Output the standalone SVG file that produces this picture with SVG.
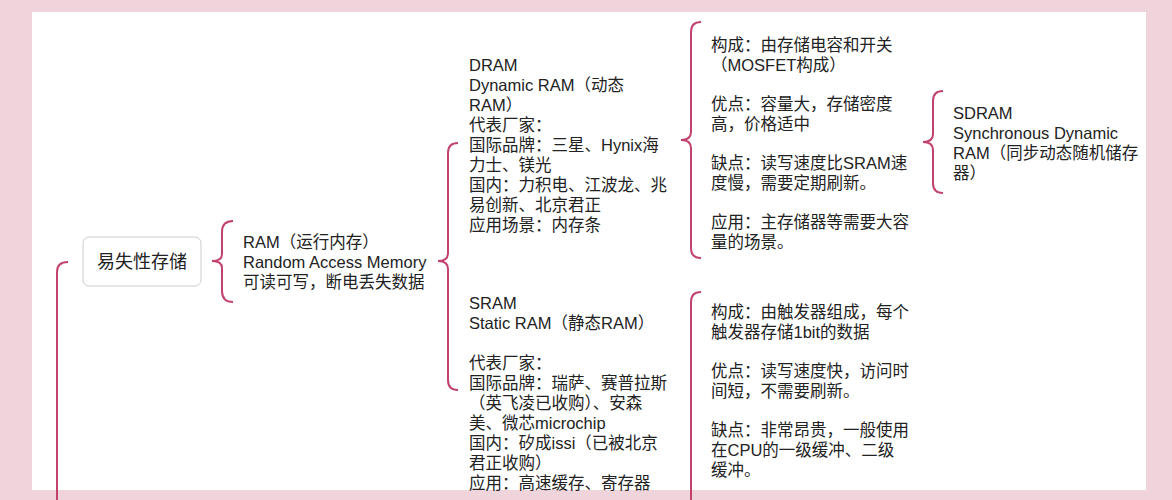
<svg xmlns="http://www.w3.org/2000/svg" width="1172" height="500" viewBox="0 0 1172 500">
<style>
text{font-family:"Liberation Sans","Noto Sans CJK SC",sans-serif;font-size:16.5px;fill:#222}
.b{fill:none;stroke:#c2426e;stroke-width:2}
</style>
<rect width="1172" height="500" fill="#f0d4db"/>
<rect x="32" y="12" width="1114" height="478" fill="#fff"/>
<g id="connectors">
<path class="b" d="M68,262 Q57,262 57,272 L57,500"/>
<path class="b" d="M233,221 Q222,221 222,232 L222,254 Q222,261 212,261 Q222,261 222,268 L222,291 Q222,302 233,302"/>
<path class="b" d="M458,143 Q448,143 448,153 L448,253 Q448,261 438,261 Q448,261 448,269 L448,380 Q448,390 458,390"/>
<path class="b" d="M701,22 Q691,22 691,32 L691,132 Q691,140 681,140 Q691,140 691,148 L691,248 Q691,258 701,258"/>
<path class="b" d="M701,292 Q691,292 691,302 L691,500"/>
<path class="b" d="M943,91 Q933,91 933,101 L933,134 Q933,142 923,142 Q933,142 933,150 L933,183 Q933,193 943,193"/>
</g>
<g id="n-volatile">
<rect x="83" y="237" width="118" height="49" rx="6" fill="#fff" stroke="#ccc"/>
<text x="142" y="268" text-anchor="middle" style="font-size:18px">易失性存储</text>
</g>
<g id="n-ram"><text x="243" y="248">RAM（运行内存）</text><text x="243" y="268">Random Access Memory</text><text x="243" y="288">可读可写，断电丢失数据</text></g>
<g id="n-dram"><text x="469" y="71">DRAM</text><text x="469" y="91">Dynamic RAM（动态</text><text x="469" y="111">RAM）</text><text x="469" y="131">代表厂家：</text><text x="469" y="151">国际品牌：三星、Hynix海</text><text x="469" y="171">力士、镁光</text><text x="469" y="191">国内：力积电、江波龙、兆</text><text x="469" y="211">易创新、北京君正</text><text x="469" y="231">应用场景：内存条</text></g>
<g id="n-sram"><text x="469" y="309">SRAM</text><text x="469" y="329">Static RAM（静态RAM）</text><text x="469" y="369">代表厂家：</text><text x="469" y="389">国际品牌：瑞萨、赛普拉斯</text><text x="469" y="409">（英飞凌已收购）、安森</text><text x="469" y="429">美、微芯microchip</text><text x="469" y="449">国内：矽成issi（已被北京</text><text x="469" y="469">君正收购）</text><text x="469" y="489">应用：高速缓存、寄存器</text></g>
<g id="n-dram-info"><text x="711" y="51">构成：由存储电容和开关</text><text x="711" y="71">（MOSFET构成）</text><text x="711" y="110">优点：容量大，存储密度</text><text x="711" y="130">高，价格适中</text><text x="711" y="169">缺点：读写速度比SRAM速</text><text x="711" y="189">度慢，需要定期刷新。</text><text x="711" y="228">应用：主存储器等需要大容</text><text x="711" y="248">量的场景。</text></g>
<g id="n-sdram"><text x="953" y="119">SDRAM</text><text x="953" y="139">Synchronous Dynamic</text><text x="953" y="159">RAM（同步动态随机储存</text><text x="953" y="179">器）</text></g>
<g id="n-sram-info"><text x="711" y="318">构成：由触发器组成，每个</text><text x="711" y="338">触发器存储1bit的数据</text><text x="711" y="377">优点：读写速度快，访问时</text><text x="711" y="397">间短，不需要刷新。</text><text x="711" y="436">缺点：非常昂贵，一般使用</text><text x="711" y="456">在CPU的一级缓冲、二级</text><text x="711" y="476">缓冲。</text></g>
</svg>
